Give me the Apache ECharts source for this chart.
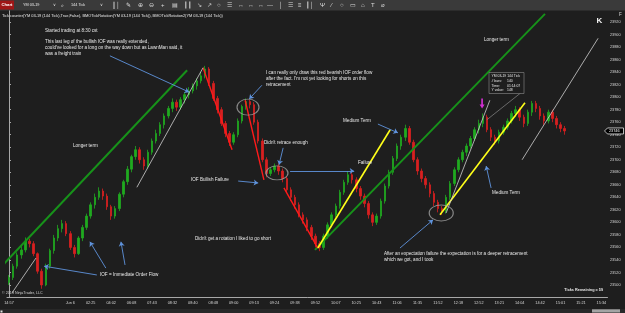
<!DOCTYPE html>
<html><head><meta charset="utf-8">
<script src="https://cdn.jsdelivr.net/npm/echarts@6/dist/echarts.min.js"></script>
<style>html,body{margin:0;padding:0;background:#1e1e1e;overflow:hidden}#c{width:625px;height:313px}</style>
</head><body><div id="c"></div>
<script>
// ---- data ----
const tickLabels = ['14:57','','','Jun 6','02:25','04:02','06:08','07:43','08:32','08:40','08:48','09:00','09:13','09:24','09:38','09:52','10:07','10:25','10:43','11:06','11:35','11:52','12:18','12:52','13:21','14:04','14:42','15:01','15:21','15:34'];
const slotCount = 147;
// [open, close, low, high]
const legRally = [
[23504,23512,23500,23516],[23512,23530,23508,23534],[23530,23548,23526,23552],[23548,23556,23542,23562],
[23556,23570,23552,23576],[23570,23566,23560,23574],[23566,23550,23546,23570],[23550,23522,23518,23552],
[23522,23500,23494,23526],[23500,23530,23498,23534],[23530,23555,23526,23558],[23555,23575,23550,23580],
[23575,23590,23570,23596],[23590,23598,23584,23604],[23598,23582,23578,23602],[23582,23560,23556,23586],
[23560,23550,23544,23564],[23550,23575,23548,23578],[23575,23592,23570,23596],[23592,23610,23588,23614],
[23610,23628,23606,23632],[23628,23640,23622,23646],[23640,23650,23636,23656],[23650,23642,23636,23654],
[23642,23625,23620,23646],[23625,23610,23604,23628],[23610,23622,23606,23626],[23622,23645,23618,23648],
[23645,23665,23640,23668],[23665,23685,23660,23690],[23685,23705,23680,23708],[23705,23716,23700,23722],
[23716,23700,23694,23720],[23700,23690,23684,23704],[23690,23712,23686,23716],[23712,23730,23708,23734],
[23730,23742,23726,23748],[23742,23756,23738,23760],[23756,23770,23750,23774],[23770,23782,23766,23786],
[23782,23792,23776,23798],[23792,23784,23778,23796],[23784,23796,23780,23800],[23796,23804,23790,23808],
[23804,23810,23798,23816],[23810,23818,23806,23822],[23818,23826,23812,23830],[23826,23834,23822,23840],
[23834,23845,23830,23850]
];
const legDrop = [
[23845,23822,23818,23848],[23822,23798,23794,23826],[23798,23780,23774,23802],[23780,23758,23754,23784],
[23758,23742,23736,23762],[23742,23728,23722,23746],[23728,23740,23724,23744],[23740,23762,23736,23766],
[23762,23785,23758,23788],[23785,23793,23780,23798],[23793,23788,23782,23796],[23788,23760,23756,23792],
[23760,23730,23726,23764],[23730,23700,23696,23734],[23700,23678,23672,23704],[23678,23684,23674,23688],
[23684,23690,23680,23694],[23690,23682,23676,23694],[23682,23670,23664,23686],[23670,23652,23648,23674],
[23652,23640,23634,23656],[23640,23628,23622,23644],[23628,23612,23608,23632],[23612,23604,23598,23616],
[23604,23592,23586,23608],[23592,23578,23572,23596],[23578,23566,23560,23582]
];
const legSwing = [
[23566,23560,23554,23570],[23560,23578,23556,23582],[23578,23596,23574,23600],[23596,23612,23592,23616],
[23612,23626,23608,23630],[23626,23648,23622,23652],[23648,23664,23644,23668],[23664,23676,23660,23682],
[23676,23668,23662,23680],[23668,23654,23648,23672],[23654,23642,23636,23658],[23642,23630,23624,23646],
[23630,23612,23606,23634],[23612,23600,23594,23616],[23600,23610,23596,23614],[23610,23634,23606,23638],
[23634,23658,23630,23662],[23658,23680,23654,23684],[23680,23702,23676,23706],[23702,23722,23698,23726],
[23722,23736,23716,23740],[23736,23750,23730,23756],[23750,23728,23724,23754],[23728,23700,23696,23732],
[23700,23682,23676,23704],[23682,23670,23664,23686],[23670,23660,23654,23674],[23660,23646,23640,23664],
[23646,23632,23626,23650],[23632,23622,23616,23636],[23622,23618,23612,23626]
];
const legFinal = [
[23618,23640,23614,23644],[23640,23662,23636,23666],[23662,23684,23658,23688],[23684,23700,23680,23704],
[23700,23712,23696,23716],[23712,23722,23706,23726],[23722,23734,23718,23738],[23734,23748,23730,23752],
[23748,23758,23742,23764],[23758,23768,23752,23774],[23768,23748,23744,23772],[23748,23736,23730,23752],
[23736,23730,23724,23740],[23730,23744,23726,23748],[23744,23752,23740,23756],[23752,23762,23748,23766],
[23762,23774,23758,23778],[23774,23780,23768,23786],[23780,23768,23762,23784],[23768,23758,23752,23772],
[23758,23776,23754,23780],[23776,23790,23770,23794],[23790,23782,23776,23794],[23782,23770,23764,23786],
[23770,23762,23756,23774],[23762,23776,23758,23780],[23776,23766,23760,23780],[23766,23756,23750,23770],
[23756,23750,23744,23760],[23750,23746,23740,23754]
];
// drawn trend lines, [barIndex, price] endpoints
const greenLines = [[[-2.2,23527],[43.6,23843]], [[74.9,23556],[131.2,23933]]];
const redLines = [[[47.5,23847],[54.6,23716]], [[57.8,23795],[62.4,23668]], [[67.3,23655],[75.6,23559]]];
const yellowLines = [[[75.6,23559],[93.3,23748]], [[105.5,23612],[126.3,23791]]];
const whiteLines = [[[31.3,23656],[47.5,23847]], [[107,23615],[117.7,23795]], [[125.6,23700],[144.2,23894]], [[0.7,23487],[6.6,23543]]];
const blueArrows = [
 [[24.7,23866],[44.1,23808]], [[61.9,23819],[58.8,23797]], [[90.3,23757],[95.2,23743]],
 [[67.1,23719],[66.1,23692]], [[56.1,23666],[61,23663]], [[68.8,23682],[84.5,23682]],
 [[21.5,23516],[8.6,23530]], [[23.7,23527],[19.8,23569]], [[28.4,23532],[27.4,23569]],
 [[95.7,23559],[103.8,23604]], [[118,23655],[116.8,23690]]
];
const circles = [[58.5,23784,22,16],[65.6,23679,22,14],[105.8,23615,24,16]];
const magentaArrow = [[115.8,23790]];
const tipLink = [[125.3,23807],[117,23764]];

// ---- build ----
const ohlc = legRally.concat(legDrop, legSwing, legFinal);
const slots = Array.from({length: slotCount}, (_, i) => String(i));
const FONT = 'Liberation Sans';

const segSeries = (segs, color, width) => segs.map(s => ({
  type: 'line', xAxisIndex: 1, yAxisIndex: 0, data: s, symbol: 'none', silent: true,
  lineStyle: {color: color, width: width}, z: 4, animation: false
}));

const chart = echarts.init(document.getElementById('c'), null, {renderer: 'canvas', width: 625, height: 313});

const option = {
  backgroundColor: '#1e1e1e',
  animation: false,
  grid: {left: 6.957, right: 17.5, top: 9.5, bottom: 15.5},
  xAxis: [{
    type: 'category', data: slots, boundaryGap: true,
    axisLine: {lineStyle: {color: '#a8a8a8', width: 1}},
    axisTick: {interval: 4, alignWithLabel: true, length: 2.5, lineStyle: {color: '#a8a8a8'}},
    axisLabel: {interval: 4, color: '#d6d6d6', fontSize: 3.8, fontFamily: FONT, margin: 3.5,
      formatter: (v, idx) => tickLabels[Math.round(idx / 5)] || ''},
    splitLine: {show: false}
  }, {
    type: 'value', min: -0.5, max: slotCount - 0.5, show: false
  }],
  yAxis: [{
    type: 'value', position: 'right', min: 23480, max: 23940, interval: 20, scale: true,
    axisLine: {show: true, lineStyle: {color: '#a8a8a8', width: 1}},
    axisTick: {show: true, length: 2, lineStyle: {color: '#a8a8a8'}},
    axisLabel: {color: '#d6d6d6', fontSize: 3.8, fontFamily: FONT, margin: 2.5, showMinLabel: false, showMaxLabel: false,
      formatter: v => String(v)},
    splitLine: {show: false}
  }],
  series: [
    {type: 'candlestick', xAxisIndex: 0, yAxisIndex: 0, data: ohlc, barWidth: 2, z: 3,
     itemStyle: {color: '#1faa1f', color0: '#d82020', borderColor: '#1faa1f', borderColor0: '#d82020', borderWidth: 0.8}},
    ...segSeries(greenLines, '#17921a', 2),
    ...segSeries(redLines, '#ff1a1a', 1.4),
    ...segSeries(yellowLines, '#ffff1a', 1.6),
    ...segSeries(whiteLines, '#d0d0d0', 0.8),
    {type: 'line', xAxisIndex: 1, yAxisIndex: 0, data: tipLink, symbol: 'none', silent: true,
     lineStyle: {color: '#8a8a8a', width: 0.7}, z: 4},
    {type: 'lines', coordinateSystem: 'cartesian2d', xAxisIndex: 1, yAxisIndex: 0, silent: true, z: 5,
     symbol: ['none', 'arrow'], symbolSize: 4.5,
     lineStyle: {color: '#5f93dc', width: 0.9, opacity: 1},
     data: blueArrows.map(a => ({coords: a}))},
    {type: 'scatter', xAxisIndex: 1, yAxisIndex: 0, silent: true, z: 5,
     data: circles.map(c => ({value: [c[0], c[1]], symbolSize: [c[2], c[3]]})),
     symbol: 'circle',
     itemStyle: {color: 'rgba(0,0,0,0)', borderColor: '#a0a0a0', borderWidth: 1}},
    {type: 'scatter', xAxisIndex: 1, yAxisIndex: 0, silent: true, z: 6, data: magentaArrow,
     symbol: 'path://M2,0 L4,0 L4,6 L6,6 L3,10 L0,6 L2,6 Z', symbolSize: [5, 10],
     itemStyle: {color: '#ff33ff'}}
  ]
};
chart.setOption(option);

// ---- annotations / chrome ----
function txt(x, y, s, o) {
  o = o || {};
  const fs = o.fs || 4.6;
  return {type: 'text', z: o.z || 50, silent: true, style: {
    text: s, x: x, y: y, fill: o.fill || '#e8e8e8',
    font: (o.bold ? 'bold ' : '') + fs + 'px "' + FONT + '"',
    fontSize: fs, fontFamily: FONT, fontWeight: o.bold ? 'bold' : 'normal',
    align: o.align || 'left', textAlign: o.align || 'left',
    verticalAlign: 'middle', textVerticalAlign: 'middle'}};
}
const notes = [
 ['Started trading at 8:30 cst', 45, 31],
 ['This last leg of the bullish IOF was really extended,', 45, 42],
 ["could've looked for a long on the way down but as LawnMan said, it", 45, 48],
 ['was a freight train', 45, 54],
 ['I can really only draw this red bearish IOF order flow', 266, 73],
 ["after the fact. I'm not yet looking for shorts on this", 266, 79],
 ['retracement', 266, 85],
 ['Longer term', 484, 40],
 ['Medium Term', 343, 121],
 ["Didn't retrace enough", 264, 143],
 ['Longer term', 73, 146],
 ['IOF Bullish Failure', 191, 180],
 ['Failure', 358, 163],
 ['Medium Term', 492, 193],
 ["Didn't get a rotation I liked to go short", 195, 239],
 ['IOF = Immediate Order Flow', 100, 275],
 ['After an expectation failure the expectation is for a deeper retracement', 384, 254],
 ['which we got, and I took', 384, 260]
];
const g = [];
notes.forEach(n => g.push(txt(n[1], n[2], n[0])));
// header & footer texts
g.push(txt(2, 15.5, 'Tick counter(YM 03-19 (144 Tick),True,False), BMOTickRotation(YM 03-19 (144 Tick)), BMOTickRotation2(YM 03-19 (144 Tick))', {fs: 3.9}));
g.push(txt(2, 292.5, '\u00a9 2019 NinjaTrader, LLC', {fs: 3.7, fill: '#d0d0d0'}));
g.push(txt(603, 290, 'Ticks Remaining = 59', {fs: 3.8, align: 'right', bold: true}));
// tooltip box
g.push({type: 'rect', z: 40, silent: true, shape: {x: 489, y: 72.5, width: 35, height: 21},
  style: {fill: '#1e1e1e', stroke: '#8c8c8c', lineWidth: 0.6}});
g.push(txt(491.5, 76, 'YM 03-19 144 Tick', {fs: 3.4}));
[['# bars:', '140'], ['Time:', '01:14:07'], ['Y value:', '148']].forEach((r, k) => {
  g.push(txt(491.5, 81 + k * 4.7, r[0], {fs: 3.4}));
  g.push(txt(507, 81 + k * 4.7, r[1], {fs: 3.4}));
});
// toolbar
g.push({type: 'rect', z: 60, silent: true, shape: {x: 0, y: 0, width: 625, height: 10.5}, style: {fill: '#3a3a3a'}});
g.push({type: 'rect', z: 61, silent: true, shape: {x: 0, y: 0.5, width: 14, height: 9}, style: {fill: '#9e1616'}});
g.push(txt(1.5, 5.2, 'Chart', {fs: 4.2, z: 62, bold: true, fill: '#ffffff'}));
g.push(txt(23, 5.2, 'YM 03-19', {fs: 3.8, z: 62}));
g.push(txt(53, 5.2, '\u2228', {fs: 3.8, z: 62}));
g.push(txt(61, 5.2, '\u2315', {fs: 5, z: 62}));
g.push(txt(71, 5.2, '144 Tick', {fs: 3.8, z: 62}));
g.push(txt(100, 5.2, '\u2228', {fs: 3.8, z: 62}));
const icons = [['\u2551\u2502',112],['\u270e',126],['\u2295',138],['\u2296',149],['+',161],['\u25a4',172],['\u2503\u2503',184],['\u2198',197],['\u2197',207],['\u25cb',217],['\u2630',227],['\u2194',238],['\u2194',248],['\u2194',258],['\u2014',267],['\u2502',279],['\u2630',288],['\u2261',298],['\u2503\u2502',306],['\u03a8',320],['\u2044',331],['\u25cb',340],['\u25ad',350],['\u2302',361],['T',371],['\u2300',381]];
icons.forEach(ic => g.push(txt(ic[1], 5.2, ic[0], {fs: 6, z: 62, fill: '#dcdcdc'})));
// right top marks
g.push(txt(596.5, 20.5, 'K', {fs: 8, bold: true, fill: '#f4f4f4'}));
g.push(txt(619, 14.5, 'F', {fs: 4.5, fill: '#dddddd'}));
// bottom strip
g.push({type: 'rect', z: 60, silent: true, shape: {x: 0, y: 309, width: 625, height: 4}, style: {fill: '#282828'}});
g.push({type: 'rect', z: 61, silent: true, shape: {x: 592, y: 309.3, width: 28, height: 3.2}, style: {fill: '#a4a4a4'}});
g.push({type: 'rect', z: 61, silent: true, shape: {x: 0.5, y: 310.5, width: 2, height: 2}, style: {fill: '#e0e0e0'}});
// current price marker
const lastClose = ohlc[ohlc.length - 1][1];
const py = chart.convertToPixel({yAxisIndex: 0}, lastClose);
g.push({type: 'polygon', z: 45, silent: true,
  shape: {points: [[604.5, py], [607.5, py - 3], [623.5, py - 3], [623.5, py + 3], [607.5, py + 3]]},
  style: {fill: '#000000', stroke: '#ffffff', lineWidth: 0.7}});
g.push(txt(609, py, String(lastClose), {fs: 3.8, z: 46, fill: '#ffffff'}));
chart.setOption({graphic: g});
</script>
</body></html>
